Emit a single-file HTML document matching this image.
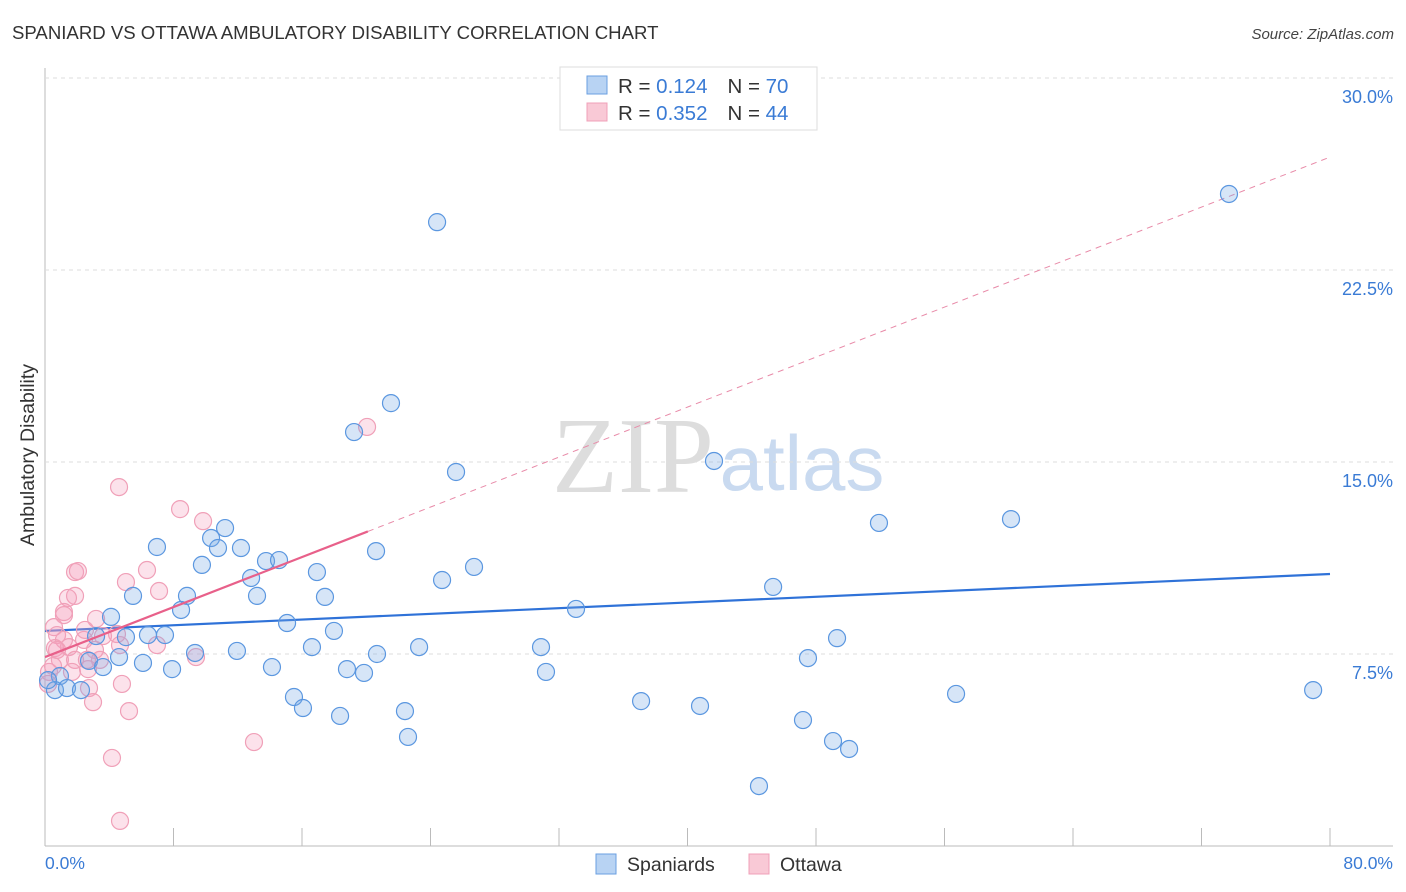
<!DOCTYPE html>
<html><head><meta charset="utf-8"><style>
body{margin:0;background:#fff;font-family:"Liberation Sans",sans-serif;}
</style></head><body>
<svg id="chart" width="1406" height="892" xmlns="http://www.w3.org/2000/svg" style="display:block">
<text x="12" y="39" font-size="18.6" fill="#333">SPANIARD VS OTTAWA AMBULATORY DISABILITY CORRELATION CHART</text>
<text x="1394" y="39" font-size="15" fill="#444" font-style="italic" text-anchor="end">Source: ZipAtlas.com</text>
<g>
<text x="633" y="492" font-size="108" font-family="Liberation Serif,serif" fill="#ddd" text-anchor="middle">ZIP</text>
<text x="802" y="490" font-size="78" fill="#c9daf0" text-anchor="middle">atlas</text>
</g>
<g id="grid"></g><g id="marks"></g>
<text transform="translate(34,455) rotate(-90)" font-size="19.5" fill="#333" text-anchor="middle">Ambulatory Disability</text>
<text x="45" y="869" font-size="17.5" fill="#3a7bd5">0.0%</text>
<text x="1393" y="869" font-size="17.5" fill="#3a7bd5" text-anchor="end">80.0%</text>
<g>
<rect x="560" y="67" width="257" height="63" fill="#fff" stroke="#ddd"/>
<rect x="587" y="76" width="20" height="18" fill="#b8d3f3" stroke="#6a9fe0"/>
<rect x="587" y="103" width="20" height="18" fill="#f9c9d6" stroke="#f0a0b8"/>
<text x="618" y="93" font-size="20.5" fill="#333">R = <tspan fill="#3a7bd5">0.124</tspan><tspan dx="20">N = </tspan><tspan fill="#3a7bd5">70</tspan></text>
<text x="618" y="120" font-size="20.5" fill="#333">R = <tspan fill="#3a7bd5">0.352</tspan><tspan dx="20">N = </tspan><tspan fill="#3a7bd5">44</tspan></text>
</g>
<g>
<rect x="596" y="854" width="20" height="20" fill="#b8d3f3" stroke="#6a9fe0"/>
<text x="627" y="871" font-size="19.5" fill="#333">Spaniards</text>
<rect x="749" y="854" width="20" height="20" fill="#f9c9d6" stroke="#f0a0b8"/>
<text x="780" y="871" font-size="19.5" fill="#333">Ottawa</text>
</g>
</svg>
<script>
const yTicks=[7.5,15,22.5,30];
const yTickLabels=["7.5%","15.0%","22.5%","30.0%"];
const xTicks=[0,8,16,24,32,40,48,56,64,72,80];
const blueX=[24.41,73.71,21.54,19.24,25.59,41.65,51.92,60.14,6.97,10.34,11.21,10.77,12.20,13.76,14.57,20.61,9.77,12.83,16.93,24.72,26.71,45.33,8.84,5.48,13.20,17.43,8.47,4.11,33.06,15.07,17.99,49.31,5.04,6.41,7.47,3.18,9.34,16.62,23.29,30.88,11.95,4.61,20.67,6.10,2.74,3.61,7.91,14.13,18.80,19.86,31.19,47.50,0.93,0.62,1.37,2.24,15.50,16.06,37.11,40.78,56.72,78.95,18.37,22.41,47.19,49.06,50.06,22.60,44.45,0.19];
const blueY=[24.37,25.47,17.30,16.17,14.61,15.04,12.62,12.77,11.68,12.03,12.42,11.64,11.64,11.13,11.17,11.52,10.98,10.47,10.70,10.39,10.90,10.12,9.77,9.77,9.77,9.73,9.22,8.95,9.26,8.71,8.40,8.12,8.16,8.24,8.24,8.20,7.54,7.77,7.77,7.77,7.62,7.38,7.50,7.15,7.23,6.99,6.91,6.99,6.91,6.76,6.80,7.34,6.64,6.09,6.17,6.09,5.82,5.39,5.66,5.47,5.94,6.09,5.08,5.27,4.92,4.10,3.79,4.26,2.34,6.48];
const pinkX=[20.05,4.61,8.41,9.84,1.87,2.05,6.35,5.04,1.87,1.43,7.10,1.18,1.18,3.18,0.56,0.75,1.18,2.43,3.61,4.48,1.49,3.11,0.62,0.93,1.87,2.61,3.42,6.97,9.40,4.67,0.25,0.19,0.50,1.68,2.68,2.74,2.99,4.79,5.23,0.75,13.01,4.17,4.67,2.49];
const pinkY=[16.37,14.02,13.16,12.69,10.70,10.74,10.78,10.31,9.77,9.69,9.96,9.14,9.02,8.87,8.55,8.24,8.05,8.05,8.20,8.28,7.77,7.66,7.73,7.27,7.27,7.27,7.27,7.85,7.38,7.85,6.80,6.33,7.03,6.80,6.91,6.17,5.62,6.33,5.27,7.66,4.06,3.44,0.98,8.44];
const blueTrend=[8.40,10.625];
const pinkTrend=[7.38,26.91];
const pinkSolidEnd=20.1;
const X0=45,X1=1330,Y0=846,Y1=78;
const xs=v=>X0+(v/80)*(X1-X0);
const ys=v=>Y0-(v/30)*(Y0-Y1);
const NS="http://www.w3.org/2000/svg";
function mk(t,a,p){const e=document.createElementNS(NS,t);for(const k in a)e.setAttribute(k,a[k]);p.appendChild(e);return e;}
const grid=document.getElementById('grid'),marks=document.getElementById('marks');
const ax=mk('line',{x1:45,y1:68,x2:45,y2:846,stroke:'#bbb'},grid);


const bx=mk('line',{x1:45,y1:846,x2:1393,y2:846,stroke:'#bbb'},grid);


yTicks.forEach((t,i)=>{
 const g=mk('line',{x1:45,x2:1393,y1:ys(t),y2:ys(t),stroke:'#ddd','stroke-dasharray':'4,4'},grid);
 
 
 const l=mk('text',{x:1393,y:ys(t)+25,'font-size':18,fill:'#3a7bd5','text-anchor':'end'},grid);
 l.textContent=yTickLabels[i];
 
 
});
xTicks.forEach(t=>{
 const k=mk('line',{x1:xs(t),x2:xs(t),y1:828,y2:846,stroke:'#bbb'},grid);
 
 
});
const bt=mk('line',{x1:xs(0),y1:ys(blueTrend[0]),x2:xs(80),y2:ys(blueTrend[1]),stroke:'#2f72d8','stroke-width':2.2},marks);


const pAt=v=>pinkTrend[0]+(pinkTrend[1]-pinkTrend[0])*v/80;
const pd=mk('line',{x1:xs(pinkSolidEnd),y1:ys(pAt(pinkSolidEnd)),x2:xs(80),y2:ys(pAt(80)),stroke:'#e88aa8','stroke-width':1,'stroke-dasharray':'6,5'},marks);


pinkX.forEach((x,i)=>{
 const c=mk('circle',{cx:xs(x),cy:ys(pinkY[i]),r:8.5,fill:'rgba(244,160,188,0.3)',stroke:'#f0a0b8','stroke-width':1.2},marks);
 
 
});
blueX.forEach((x,i)=>{
 const c=mk('circle',{cx:xs(x),cy:ys(blueY[i]),r:8.5,fill:'rgba(120,170,230,0.3)',stroke:'#5b97e0','stroke-width':1.2},marks);
 
 
});
const ps=mk('line',{x1:xs(0),y1:ys(pAt(0)),x2:xs(pinkSolidEnd),y2:ys(pAt(pinkSolidEnd)),stroke:'#e8608a','stroke-width':2.2},marks);


</script>
</body></html>
